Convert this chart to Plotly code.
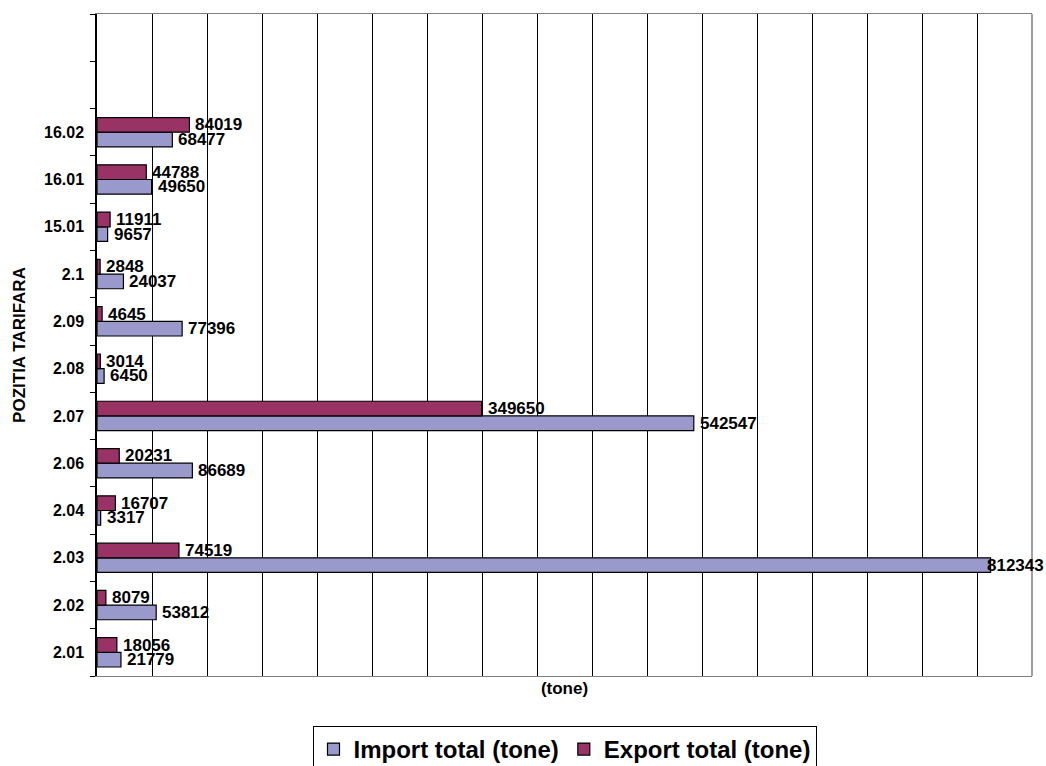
import plotly.graph_objects as go

categories = ["2.01", "2.02", "2.03", "2.04", "2.06", "2.07", "2.08", "2.09", "2.1", "15.01", "16.01", "16.02"]
empty_slots = [" ", "  "]
import_total = [21779, 53812, 812343, 3317, 86689, 542547, 6450, 77396, 24037, 9657, 49650, 68477]
export_total = [18056, 8079, 74519, 16707, 20231, 349650, 3014, 4645, 2848, 11911, 44788, 84019]

FONT = "Liberation Sans, Arial, sans-serif"
X_MAX = 850000

fig = go.Figure()
fig.add_trace(go.Bar(
    y=categories, x=import_total, orientation="h", name="Import total (tone)",
    marker=dict(color="#9999CC", line=dict(color="black", width=1.2)),
))
fig.add_trace(go.Bar(
    y=categories, x=export_total, orientation="h", name="Export total (tone)",
    marker=dict(color="#993366", line=dict(color="black", width=1.2)),
))

annotations = []
for values, yshift in ((import_total, -7.3), (export_total, 7.3)):
    for idx, v in enumerate(values):
        # labels that would run off the chart's right edge are pulled back over the bar end
        xshift = -6 if v > 0.93 * X_MAX else 4
        annotations.append(dict(
            x=v, y=idx, xref="x", yref="y", text=str(v), showarrow=False,
            xanchor="left", yanchor="middle", xshift=xshift, yshift=yshift,
            font=dict(family=FONT, size=17, color="black", weight="bold"),
        ))

fig.update_layout(
    width=1046, height=766,
    margin=dict(l=97, r=14, t=14, b=90, autoexpand=False),
    paper_bgcolor="white", plot_bgcolor="white",
    barmode="group", bargap=0.38, bargroupgap=0,
    font=dict(family=FONT, color="black"),
    showlegend=True,
    legend=dict(
        orientation="h", x=0.5, xanchor="center", xref="paper",
        y=(766 - 726) / 766, yanchor="top", yref="container",
        bordercolor="black", borderwidth=1,
        font=dict(family=FONT, size=24, color="black", weight="bold"),
        traceorder="normal", itemwidth=30,
    ),
    xaxis=dict(
        range=[0, X_MAX], dtick=50000, tick0=0,
        showgrid=True, gridcolor="black", gridwidth=1,
        showticklabels=False, zeroline=False,
        showline=True, linecolor="#808080", linewidth=1, mirror=True,
        title=dict(text="(tone)", font=dict(family=FONT, size=17, color="black", weight="bold"), standoff=6),
    ),
    yaxis=dict(
        type="category", categoryorder="array", categoryarray=categories + empty_slots,
        range=[-0.5, 13.5],
        showgrid=False, zeroline=False,
        showline=True, linecolor="black", linewidth=1.5,
        ticks="outside", ticklen=5, tickcolor="black", tickson="boundaries",
        ticklabelstandoff=8,
        tickfont=dict(family=FONT, size=16, color="black", weight="bold"),
        title=dict(text="POZITIA TARIFARA", font=dict(family=FONT, size=17, color="black", weight="bold"), standoff=14),
    ),
    annotations=annotations,
    shapes=[dict(type="line", xref="paper", yref="paper", x0=1, x1=1, y0=0, y1=1,
                 line=dict(color="#808080", width=1.5), layer="above")],
)

fig.write_html("out.html")
